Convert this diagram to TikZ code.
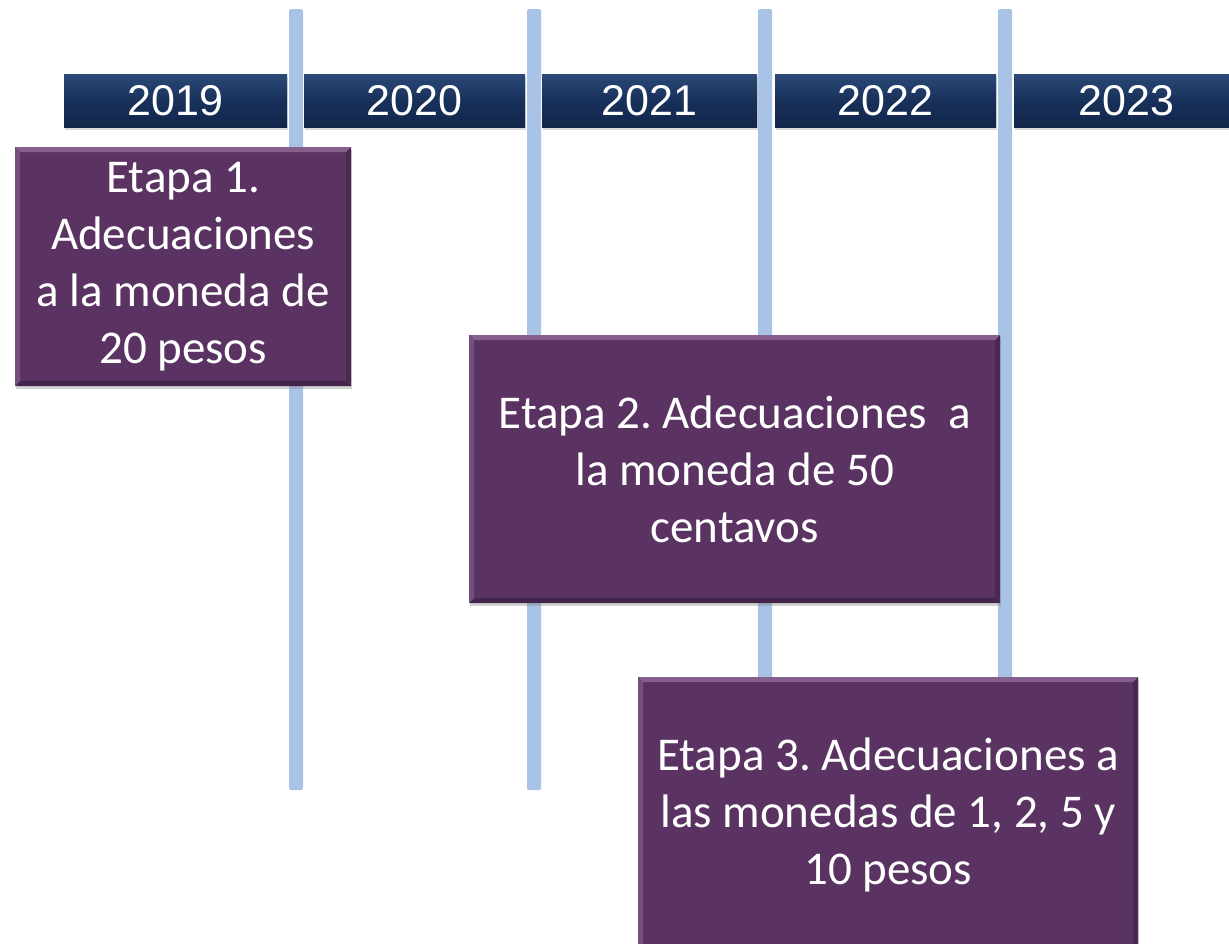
\documentclass[tikz,border=0pt]{standalone}
\usepackage{fontspec}
\setmainfont{Carlito}
\newfontfamily\arialfont{Liberation Sans}
\usetikzlibrary{shadows}
\frenchspacing
\definecolor{navy}{HTML}{18305A}
\definecolor{navytop}{HTML}{2B4A78}
\definecolor{navybot}{HTML}{12264A}
\definecolor{vline}{HTML}{A9C3E6}
\definecolor{plum}{HTML}{5A3362}
\definecolor{plumlight}{HTML}{86608D}
\definecolor{plumdark}{HTML}{43244A}
\tikzset{
  yearbar/.style={rectangle, anchor=north west, minimum height=53pt, inner sep=0pt,
    top color=navytop, bottom color=navybot, middle color=navy,
    text=white, font=\arialfont\fontsize{43}{50}\selectfont,
    drop shadow={shadow xshift=1pt, shadow yshift=-3pt, opacity=0.3}},
  stagebox/.style={rectangle, anchor=north west, inner sep=0pt, fill=plum,
    text=white, align=center, font=\frenchspacing\fontsize{47}{57}\selectfont,
    drop shadow={shadow xshift=1pt, shadow yshift=-3pt, opacity=0.35},
    path picture={
      \fill[plumlight] (path picture bounding box.north west) -- (path picture bounding box.north east)
        -- ([xshift=-5pt,yshift=-5pt]path picture bounding box.north east)
        -- ([xshift=5pt,yshift=-5pt]path picture bounding box.north west) -- cycle;
      \fill[plumdark] (path picture bounding box.south west) -- (path picture bounding box.south east)
        -- ([xshift=-5pt,yshift=5pt]path picture bounding box.south east)
        -- ([xshift=5pt,yshift=5pt]path picture bounding box.south west) -- cycle;
      \fill[plumdark!70!plum] (path picture bounding box.north east) -- (path picture bounding box.south east)
        -- ([xshift=-5pt,yshift=5pt]path picture bounding box.south east)
        -- ([xshift=-5pt,yshift=-5pt]path picture bounding box.north east) -- cycle;
      \fill[plumlight!60!plum] (path picture bounding box.north west) -- (path picture bounding box.south west)
        -- ([xshift=5pt,yshift=5pt]path picture bounding box.south west)
        -- ([xshift=5pt,yshift=-5pt]path picture bounding box.north west) -- cycle;
    }},
  vbar/.style={fill=vline, rounded corners=2pt}
}
\begin{document}
\begin{tikzpicture}[x=1pt,y=-1pt]
\useasboundingbox (0,0) rectangle (1229,943);
\clip (0,0) rectangle (1229,943);
% year bars
\node[yearbar, minimum width=223pt] (y2019) at (64,74) {2019};
\node[yearbar, minimum width=221pt] (y2020) at (304,74) {2020};
\node[yearbar, minimum width=215pt] (y2021) at (542,74) {2021};
\node[yearbar, minimum width=221pt] (y2022) at (775,74) {2022};
\node[yearbar, minimum width=224pt] (y2023) at (1014,74) {2023};
% vertical lines
\fill[vbar] (289,9) rectangle (303,790);
\fill[vbar] (527,9) rectangle (541,790);
\fill[vbar] (758,9) rectangle (772,720);
\fill[vbar] (998,9) rectangle (1012,720);
% stages
\node[stagebox, minimum width=336pt, minimum height=239pt] (e1) at (15,147)
  {Etapa 1.\\Adecuaciones\\a la moneda de\\20 pesos};
\node[stagebox, minimum width=531pt, minimum height=268pt] (e2) at (469,335)
  {Etapa 2. Adecuaciones\ \ a\\la moneda de 50\\centavos};
\node[stagebox, minimum width=500pt, minimum height=276pt] (e3) at (638,677)
  {Etapa 3. Adecuaciones a\\las monedas de 1, 2, 5 y\\10 pesos};
\end{tikzpicture}
\end{document}
